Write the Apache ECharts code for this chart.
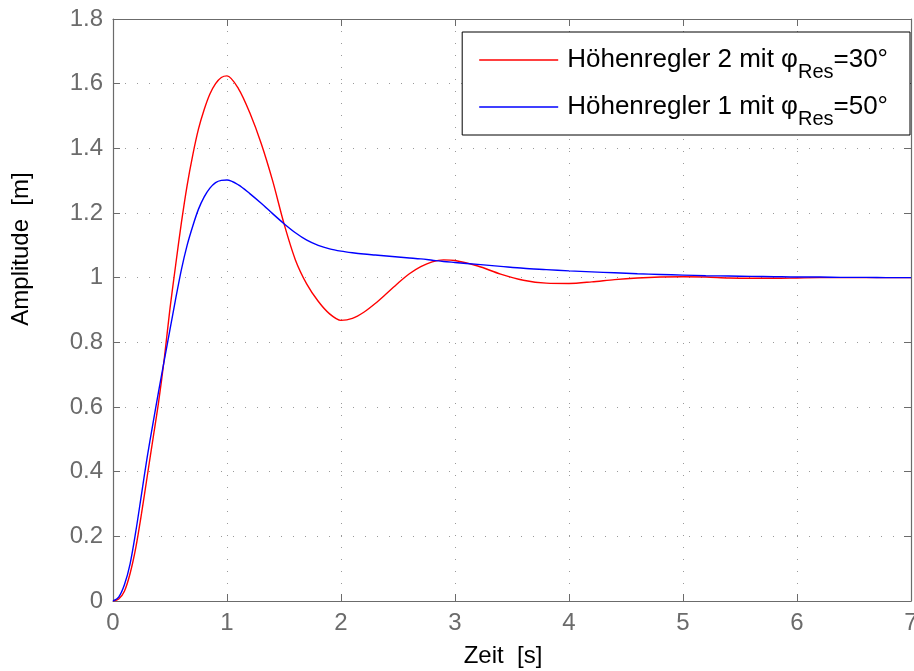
<!DOCTYPE html>
<html><head><meta charset="utf-8">
<script src="https://cdn.jsdelivr.net/npm/echarts@6.0.0/dist/echarts.min.js"></script>
<style>html,body{margin:0;padding:0;background:#fff}#c{width:914px;height:671px}</style>
</head><body><div id="c"></div>
<script>
// Zeit [s]
const time = [0,0.05,0.1,0.15,0.2,0.25,0.3,0.35,0.4,0.45,0.5,0.55,0.6,0.65,0.7,0.75,0.8,0.85,0.9,0.95,1.0,
  1.1,1.2,1.3,1.4,1.5,1.6,1.7,1.8,1.9,2.0,2.1,2.2,2.3,2.4,2.5,2.6,2.7,2.8,2.9,3.0,
  3.2,3.4,3.6,3.8,4.0,4.2,4.4,4.6,4.8,5.0,5.2,5.4,5.6,5.8,6.0,6.2,6.4,6.6,6.8,7.0];
// Höhenregler 2 (φRes = 30°)
const regler2 = [0,0.006,0.03,0.085,0.165,0.27,0.385,0.5,0.615,0.75,0.905,1.04,1.17,1.285,1.38,1.46,1.52,1.568,1.60,1.619,1.624,
  1.585,1.51,1.415,1.30,1.167,1.055,0.98,0.927,0.888,0.868,0.874,0.893,0.92,0.951,0.983,1.012,1.034,1.049,1.055,1.053,
  1.036,1.011,0.992,0.983,0.982,0.987,0.994,0.999,1.002,1.003,1.002,0.999,0.998,0.998,0.999,1.0,1.0,1.0,1.0,1.0];
// Höhenregler 1 (φRes = 50°)
const regler1 = [0,0.012,0.05,0.115,0.215,0.33,0.445,0.548,0.648,0.745,0.84,0.935,1.025,1.10,1.16,1.212,1.25,1.277,1.294,1.301,1.302,
  1.287,1.26,1.23,1.198,1.167,1.139,1.116,1.1,1.089,1.082,1.077,1.073,1.07,1.067,1.064,1.061,1.058,1.054,1.05,1.047,
  1.041,1.035,1.029,1.025,1.021,1.018,1.015,1.012,1.01,1.008,1.006,1.005,1.004,1.003,1.002,1.002,1.001,1.001,1.0,1.0];

const xTickLabels = ['0','1','2','3','4','5','6','7'];
const yTickLabels = ['0','0.2','0.4','0.6','0.8','1','1.2','1.4','1.6','1.8'];
const legendMain = ['Höhenregler 2 mit φ', 'Höhenregler 1 mit φ'];
const legendSub = 'Res';
const legendTail = ['=30°', '=50°'];
const seriesNames = legendMain.map((m, i) => m + legendSub + legendTail[i]);

const FONT = "'Liberation Sans', Arial, sans-serif";
const axisGray = '#6b6b6b';
const gridStyle = { color: '#9a9a9a', width: 1, type: [1, 11] };

const zip = (xs, ys) => xs.map((x, i) => [x, ys[i]]);

const chart = echarts.init(document.getElementById('c'), null, { renderer: 'canvas' });
const baseX = { type: 'value', min: 0, max: 7, interval: 1 };
const baseY = { type: 'value', min: 0, max: 1.8, interval: 0.2 };
chart.setOption({
  animation: false,
  backgroundColor: '#fff',
  grid: { left: 113, right: 3, top: 19, bottom: 70, containLabel: false, outerBoundsMode: 'none' },
  xAxis: [
    Object.assign({}, baseX, {
      position: 'bottom',
      name: 'Zeit  [s]', nameLocation: 'middle', nameGap: 43,
      nameTextStyle: { color: '#000', fontSize: 24, fontFamily: FONT, padding: [0, 18, 0, 0] },
      axisLine: { show: true, onZero: false, lineStyle: { color: axisGray, width: 1.2 } },
      axisTick: { show: true, inside: true, length: 7, lineStyle: { color: axisGray } },
      axisLabel: { color: axisGray, fontSize: 24, fontFamily: FONT, margin: 10,
        formatter: v => xTickLabels[Math.round(v)] },
      splitLine: { show: true, lineStyle: gridStyle }
    }),
    Object.assign({}, baseX, {
      position: 'top',
      axisLine: { show: true, onZero: false, lineStyle: { color: axisGray, width: 1.2 } },
      axisTick: { show: true, inside: true, length: 7, lineStyle: { color: axisGray } },
      axisLabel: { show: false }, splitLine: { show: false }
    })
  ],
  yAxis: [
    Object.assign({}, baseY, {
      position: 'left',
      name: 'Amplitude  [m]', nameLocation: 'middle', nameGap: 80, nameRotate: 90,
      nameTextStyle: { color: '#000', fontSize: 24, fontFamily: FONT, padding: [0, 0, 0, 122] },
      axisLine: { show: true, onZero: false, lineStyle: { color: axisGray, width: 1.2 } },
      axisTick: { show: true, inside: true, length: 7, lineStyle: { color: axisGray } },
      axisLabel: { color: axisGray, fontSize: 24, fontFamily: FONT, margin: 10,
        formatter: v => yTickLabels[Math.round(v / 0.2)] },
      splitLine: { show: true, lineStyle: gridStyle }
    }),
    Object.assign({}, baseY, {
      position: 'right',
      axisLine: { show: true, onZero: false, lineStyle: { color: axisGray, width: 1.2 } },
      axisTick: { show: true, inside: true, length: 7, lineStyle: { color: axisGray } },
      axisLabel: { show: false }, splitLine: { show: false }
    })
  ],
  legend: {
    orient: 'vertical', right: 4, top: 32,
    backgroundColor: '#fff', borderColor: '#000', borderWidth: 1,
    padding: [6, 22, 6, 17], itemGap: 3, itemWidth: 79, itemHeight: 1.5,
    icon: 'rect',
    data: seriesNames,
    formatter: name => {
      const i = seriesNames.indexOf(name);
      return '{m|' + legendMain[i] + '}{s|' + legendSub + '}{m|' + legendTail[i] + '}';
    },
    textStyle: {
      fontFamily: FONT, fontSize: 26, color: '#000', padding: [0, 0, 0, 4],
      rich: {
        m: { fontFamily: FONT, fontSize: 26, color: '#000', lineHeight: 30 },
        s: { fontFamily: FONT, fontSize: 20, color: '#000', lineHeight: 12, padding: [24, 0, 0, 0] }
      }
    }
  },
  series: [
    { name: seriesNames[0], type: 'line', data: zip(time, regler2), showSymbol: false, symbol: 'none',
      smooth: 0.3, lineStyle: { color: '#ff0000', width: 1.4 }, itemStyle: { color: '#ff0000' } },
    { name: seriesNames[1], type: 'line', data: zip(time, regler1), showSymbol: false, symbol: 'none',
      smooth: 0.3, lineStyle: { color: '#0000ff', width: 1.4 }, itemStyle: { color: '#0000ff' } }
  ]
});
</script></body></html>
